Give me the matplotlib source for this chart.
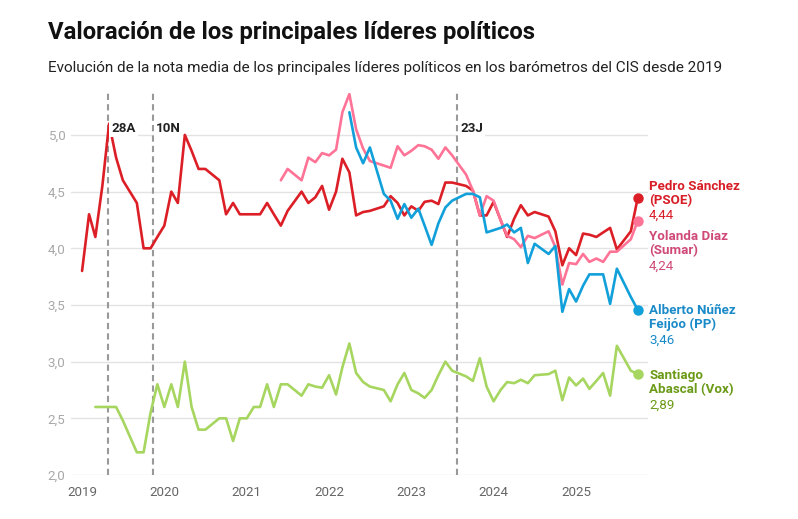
import pandas as pd
import matplotlib
matplotlib.use('Agg')
import matplotlib.pyplot as plt
import matplotlib.dates as mdates
from matplotlib.ticker import FuncFormatter

plt.rcParams['font.family'] = ['Roboto', 'DejaVu Sans']

# nota media en los barómetros del CIS (sin barómetro en agosto)
psoe_months = ['2019-01', '2019-02', '2019-03', '2019-04', '2019-05', '2019-06', '2019-07', '2019-09',
               '2019-10', '2019-11', '2019-12', '2020-01', '2020-02', '2020-03', '2020-04', '2020-05',
               '2020-06', '2020-07', '2020-09', '2020-10', '2020-11', '2020-12', '2021-01', '2021-02',
               '2021-03', '2021-04', '2021-05', '2021-06', '2021-07', '2021-09', '2021-10', '2021-11',
               '2021-12', '2022-01', '2022-02', '2022-03', '2022-04', '2022-05', '2022-06', '2022-07',
               '2022-09', '2022-10', '2022-11', '2022-12', '2023-01', '2023-02', '2023-03', '2023-04',
               '2023-05', '2023-06', '2023-07', '2023-09', '2023-10', '2023-11', '2023-12', '2024-01',
               '2024-02', '2024-03', '2024-04', '2024-05', '2024-06', '2024-07', '2024-09', '2024-10',
               '2024-11', '2024-12', '2025-01', '2025-02', '2025-03', '2025-04', '2025-05', '2025-06',
               '2025-07', '2025-09', '2025-10']
psoe = [3.80, 4.30, 4.10, 4.55, 5.10, 4.80, 4.60, 4.40,
        4.00, 4.00, 4.10, 4.20, 4.50, 4.40, 5.00, 4.86,
        4.70, 4.70, 4.60, 4.30, 4.40, 4.30, 4.30, 4.30,
        4.30, 4.40, 4.30, 4.20, 4.33, 4.50, 4.40, 4.45,
        4.55, 4.34, 4.50, 4.79, 4.67, 4.29, 4.32, 4.33,
        4.37, 4.46, 4.40, 4.29, 4.37, 4.33, 4.41, 4.42,
        4.39, 4.58, 4.58, 4.55, 4.51, 4.29, 4.29, 4.41,
        4.25, 4.10, 4.26, 4.38, 4.29, 4.32, 4.28, 4.15,
        3.85, 4.00, 3.94, 4.13, 4.12, 4.10, 4.14, 4.18,
        3.99, 4.15, 4.44]

sumar_months = ['2021-06', '2021-07', '2021-09', '2021-10', '2021-11', '2021-12', '2022-01', '2022-02',
                '2022-03', '2022-04', '2022-05', '2022-06', '2022-07', '2022-09', '2022-10', '2022-11',
                '2022-12', '2023-01', '2023-02', '2023-03', '2023-04', '2023-05', '2023-06', '2023-07',
                '2023-09', '2023-10', '2023-11', '2023-12', '2024-01', '2024-02', '2024-03', '2024-04',
                '2024-05', '2024-06', '2024-07', '2024-09', '2024-10', '2024-11', '2024-12', '2025-01',
                '2025-02', '2025-03', '2025-04', '2025-05', '2025-06', '2025-07', '2025-09', '2025-10']
sumar = [4.60, 4.70, 4.60, 4.80, 4.76, 4.84, 4.82, 4.87,
         5.20, 5.36, 5.05, 4.88, 4.77, 4.73, 4.71, 4.90,
         4.82, 4.86, 4.91, 4.90, 4.87, 4.79, 4.89, 4.82,
         4.65, 4.51, 4.29, 4.46, 4.42, 4.25, 4.11, 4.08,
         4.01, 4.11, 4.09, 4.15, 4.01, 3.68, 3.87, 3.86,
         3.95, 3.88, 3.91, 3.88, 3.97, 3.97, 4.08, 4.24]

pp_months = ['2022-04', '2022-05', '2022-06', '2022-07', '2022-09', '2022-10', '2022-11', '2022-12',
             '2023-01', '2023-02', '2023-03', '2023-04', '2023-05', '2023-06', '2023-07', '2023-09',
             '2023-10', '2023-11', '2023-12', '2024-01', '2024-02', '2024-03', '2024-04', '2024-05',
             '2024-06', '2024-07', '2024-09', '2024-10', '2024-11', '2024-12', '2025-01', '2025-02',
             '2025-03', '2025-04', '2025-05', '2025-06', '2025-07', '2025-09', '2025-10']
pp = [5.20, 4.89, 4.75, 4.89, 4.48, 4.42, 4.26, 4.39,
      4.27, 4.35, 4.20, 4.03, 4.22, 4.36, 4.42, 4.48,
      4.48, 4.45, 4.14, 4.16, 4.18, 4.21, 4.14, 4.18,
      3.87, 4.04, 3.95, 4.02, 3.44, 3.64, 3.53, 3.67,
      3.77, 3.77, 3.77, 3.51, 3.82, 3.57, 3.46]

vox_months = ['2019-03', '2019-04', '2019-05', '2019-06', '2019-07', '2019-09', '2019-10', '2019-11',
              '2019-12', '2020-01', '2020-02', '2020-03', '2020-04', '2020-05', '2020-06', '2020-07',
              '2020-09', '2020-10', '2020-11', '2020-12', '2021-01', '2021-02', '2021-03', '2021-04',
              '2021-05', '2021-06', '2021-07', '2021-09', '2021-10', '2021-11', '2021-12', '2022-01',
              '2022-02', '2022-03', '2022-04', '2022-05', '2022-06', '2022-07', '2022-09', '2022-10',
              '2022-11', '2022-12', '2023-01', '2023-02', '2023-03', '2023-04', '2023-05', '2023-06',
              '2023-07', '2023-09', '2023-10', '2023-11', '2023-12', '2024-01', '2024-02', '2024-03',
              '2024-04', '2024-05', '2024-06', '2024-07', '2024-09', '2024-10', '2024-11', '2024-12',
              '2025-01', '2025-02', '2025-03', '2025-04', '2025-05', '2025-06', '2025-07', '2025-09',
              '2025-10']
vox = [2.60, 2.60, 2.60, 2.60, 2.48, 2.20, 2.20, 2.55,
       2.80, 2.60, 2.80, 2.60, 3.00, 2.60, 2.40, 2.40,
       2.50, 2.50, 2.30, 2.50, 2.50, 2.60, 2.60, 2.80,
       2.60, 2.80, 2.80, 2.70, 2.80, 2.78, 2.77, 2.88,
       2.71, 2.95, 3.16, 2.90, 2.82, 2.78, 2.75, 2.65,
       2.80, 2.90, 2.75, 2.72, 2.68, 2.75, 2.88, 3.00,
       2.92, 2.87, 2.83, 3.03, 2.78, 2.65, 2.75, 2.82,
       2.81, 2.84, 2.81, 2.88, 2.89, 2.92, 2.66, 2.86,
       2.79, 2.85, 2.76, 2.83, 2.90, 2.70, 3.14, 2.92,
       2.89]

elections = ['2019-04-28', '2019-11-10', '2023-07-23']
election_labels = ['28A', '10N', '23J']

leaders = [
    ('Pedro Sánchez\n(PSOE)', psoe_months, psoe, '#dc1f26', '#d81e27', 4.486, 4.288),
    ('Yolanda Díaz\n(Sumar)', sumar_months, sumar, '#ff7396', '#cf4a78', 4.040, 3.839),
    ('Alberto Núñez\nFeijóo (PP)', pp_months, pp, '#12a0da', '#1a8ac9', 3.389, 3.188),
    ('Santiago\nAbascal (Vox)', vox_months, vox, '#a6d65f', '#6b9a17', 2.814, 2.617),
]

fig = plt.figure(figsize=(7.98, 5.19), dpi=100)
ax = fig.add_axes([0.089, 0.0848, 0.723, 0.736])

for name, months, values, color, text_color, y_name, y_val in leaders:
    dates = pd.to_datetime(months)
    ax.plot(dates, values, color=color, lw=1.9, solid_joinstyle='round',
            solid_capstyle='round', zorder=3)
    ax.plot(dates[-1:], values[-1:], 'o', color=color, ms=6.5, zorder=4)
    ax.text(1.002, y_name, name, transform=ax.get_yaxis_transform(),
            color=text_color, fontsize=9.6, fontweight='bold', va='center',
            linespacing=1.12)
    ax.text(1.002, y_val, f'{values[-1]:.2f}'.replace('.', ','),
            transform=ax.get_yaxis_transform(), color=text_color,
            fontsize=9.6, va='center')

for d, lab in zip(elections, election_labels):
    d = pd.Timestamp(d)
    ax.axvline(d, color='#999999', lw=1.5, ls=(0, (3, 2)), zorder=2)
    ax.text(d + pd.Timedelta(days=14), 5.06, lab, fontsize=9.6, fontweight='bold',
            color='#222222', va='center', ha='left', zorder=5,
            bbox=dict(facecolor='white', edgecolor='none', pad=1.5))

ax.set_ylim(2.0, 5.37)
ax.set_xlim(pd.Timestamp('2018-11-13'), pd.Timestamp('2025-11-16'))
ax.set_yticks([2.0, 2.5, 3.0, 3.5, 4.0, 4.5, 5.0])
ax.yaxis.set_major_formatter(FuncFormatter(lambda v, p: f'{v:.1f}'.replace('.', ',')))
ax.set_xticks(pd.to_datetime([f'{y}-01-01' for y in range(2019, 2026)]))
ax.xaxis.set_major_formatter(mdates.DateFormatter('%Y'))

ax.grid(axis='y', color='#e3e3e3', lw=1)
ax.set_axisbelow(True)
for s in ax.spines.values():
    s.set_visible(False)
ax.tick_params(length=0, labelsize=9.6)
ax.tick_params(axis='y', colors='#a8a8a8', pad=4)
ax.tick_params(axis='x', colors='#666666', pad=8)

fig.text(48 / 798, 1 - 33 / 519, 'Valoración de los principales líderes políticos',
         fontsize=17.2, fontweight='bold', color='#111111', va='center')
fig.text(48 / 798, 1 - 68 / 519,
         'Evolución de la nota media de los principales líderes políticos en los barómetros del CIS desde 2019',
         fontsize=11.0, color='#222222', va='center')

fig.savefig('out.png', dpi=100)
